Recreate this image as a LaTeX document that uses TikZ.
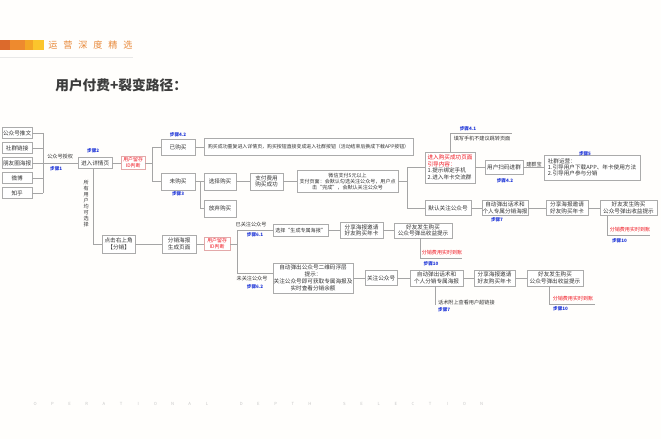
\documentclass[tikz,border=0pt]{standalone}
\usepackage{fontspec}
\setmainfont{Noto Sans CJK SC}
\definecolor{bgcol}{HTML}{FFFEFC}
\definecolor{boxgray}{HTML}{ABABAB}
\definecolor{linegray}{HTML}{A5A5A5}
\definecolor{textdark}{HTML}{333333}
\definecolor{titlegray}{HTML}{3C3C3C}
\definecolor{stepblue}{HTML}{1E35D8}
\definecolor{redtxt}{HTML}{F0141E}
\definecolor{redline}{HTML}{E3A9A9}
\definecolor{hdorange}{HTML}{E8893A}
\definecolor{barA}{HTML}{DC6A2C}
\definecolor{barB}{HTML}{EE8A2E}
\definecolor{barC}{HTML}{F4A626}
\definecolor{barD}{HTML}{FBC52C}
\begin{document}
\begin{tikzpicture}[
    x=0.5mm, y=-0.5mm,
    font=\fontsize{8}{9.4}\selectfont,
    box/.style={
      draw=boxgray, line width=0.7pt, fill=white, align=center,
      inner sep=1pt, text=textdark
    },
    sz/.style 2 args={minimum width=#1*0.5mm, minimum height=#2*0.5mm},
    small/.style={font=\fontsize{7.2}{8.6}\selectfont},
    idbox/.style={box, draw=redline, text=redtxt, font=\fontsize{7}{8.2}\selectfont},
    link/.style={draw=linegray, line width=0.7pt},
    stepl/.style={font=\fontsize{6.5}{7}\selectfont\bfseries, text=stepblue, inner sep=0pt},
    note/.style={font=\fontsize{7.3}{8.4}\selectfont, text=textdark, inner sep=0pt},
    hot/.style={font=\fontsize{7.2}{8}\selectfont, text=redtxt, inner sep=0pt},
    wm/.style={font=\fontsize{6}{6}\selectfont, text=black!22, inner sep=0pt}
  ]
    \fill[bgcol] (0,0) rectangle (661,439);

    \fill[barA] (0,40) rectangle (10,50);
    \fill[barB] (10,40) rectangle (25,50);
    \fill[barC] (25,40) rectangle (33,50);
    \fill[barD] (33,40) rectangle (44,50);
    \draw[black!9, line width=0.5pt] (0,57) -- (133,57);
    \foreach \ch [count=\i from 0] in {运,营,深,度,精,选}
      \node[font=\fontsize{13}{13}\selectfont, text=hdorange, inner sep=0pt] (hd\i) at (52.8+15*\i,45) {\ch};
    \node[anchor=west, font=\fontsize{19.5}{20}\selectfont\bfseries, text=titlegray, inner sep=0pt] (title) at (55,85) {用户付费+裂变路径：};

    \foreach \t [count=\i from 0] in {公众号推文,社群链接,朋友圈海报,微博,知乎}
      \node[box, sz={30}{11}] (src\i) at (17,133+15*\i) {\t};
    \coordinate (b0t) at (43,133);
    \coordinate (b0b) at (43,193);
    \coordinate (b0m) at (43,163);
    \node[note] (auth) at (60,157) {公众号授权};
    \node[stepl] (st1) at (56,169) {步骤1};

    \node[box, sz={34}{11}] (xq) at (95,163) {进入详情页};
    \node[stepl] (st2) at (93,151) {步骤2};
    \node[idbox, sz={24}{13}] (r1) at (133,163) {用户留存\\ID判断};
    \coordinate (b1) at (152,163);
    \node[box, sz={34}{16}] (yigou) at (178,147) {已购买};
    \node[box, sz={34}{17}] (weigou) at (178,181.5) {未购买};
    \node[stepl] (st42) at (178,135) {步骤4.2};
    \node[stepl] (st3) at (178,194) {步骤3};
    \node[box, sz={209}{17}, font=\fontsize{7}{8}\selectfont] (long1) at (308.5,147)
      {购买成功重复进入详情页，购买按钮直接变成进入社群按钮（活动结束后换成下载APP按钮）};

    \node[box, sz={32}{17}] (xz) at (220,181.5) {选择购买};
    \node[box, sz={32}{17}] (fq) at (220,208.5) {放弃购买};
    \coordinate (b2) at (200,181.5);
    \node[box, sz={33}{17}] (zf) at (266.5,181.5) {支付费用\\购买成功};
    \node[box, small, sz={101}{22}] (wx) at (347.5,181.5)
      {微信支付5元以上\\支付页面：会默认勾选关注公众号，用户点\\击“完成”，会默认关注公众号};
    \coordinate (b3) at (407,181.5);

    \node[box, sz={50}{31}, align=left, font=\fontsize{8}{9.4}\selectfont] (red2) at (450,167.5)
      {\textcolor{redtxt}{进入购买成功页面}\\\textcolor{redtxt}{引导内容：}\\1.提示绑定手机\\2.进入年卡交流群};
    \coordinate (tp1) at (450,133);
    \coordinate (tp2) at (512,133);
    \node[stepl] (st41) at (468,129) {步骤4.1};
    \node[note] (tel) at (482,139) {填写手机不建议跳转页面};
    \node[box, sz={38}{14}] (sm) at (504,167.5) {用户扫码进群};
    \node[stepl] (st42b) at (505,181) {步骤4.2};
    \node[note] (jqb) at (534,164.5) {建群宝};
    \node[box, sz={96}{25}, align=left, font=\fontsize{8}{9}\selectfont] (sq) at (592,167.5)
      {社群运营：\\1.引导用户下载APP、年卡使用方法\\2.引导用户参与分销};
    \node[stepl] (st5) at (585,154) {步骤5};

    \node[box, sz={46}{15}] (mr) at (448,208) {默认关注公众号};
    \node[box, sz={46}{15}] (zd1) at (505,208) {自动弹出话术和\\个人专属分销海报};
    \node[stepl] (st7) at (497,219.5) {步骤7};
    \node[box, sz={42}{15}] (fx1) at (567,208) {分享海报邀请\\好友购买年卡};
    \node[box, sz={57}{15}] (hy1) at (628.5,208) {好友发生购买\\公众号弹出收益提示};
    \coordinate (ob1) at (607,235);
    \coordinate (ob1a) at (650,235);
    \node[hot] (hot1) at (630,230) {分销费用实时到账};
    \node[stepl] (st10a) at (619.5,240.5) {步骤10};

    \coordinate (dn) at (93,244);
    \node[note, align=center, font=\fontsize{7.3}{8.4}\selectfont] (allu) at (86,203.5)
      {所\\有\\用\\户\\均\\可\\选\\择};
    \node[box, sz={33}{18}] (dj) at (118.5,244) {点击右上角\\【分销】};
    \node[box, sz={34}{18}] (fh) at (179,244) {分销海报\\生成页面};
    \node[idbox, sz={26}{13}] (r3) at (217,244) {用户留存\\ID判断};
    \coordinate (b4t) at (237,230.5);
    \coordinate (b4b) at (237,273);
    \node[note] (ygz) at (251,225) {已关注公众号};
    \node[stepl] (st61) at (255,235) {步骤6.1};
    \node[note] (wgz) at (252,279) {未关注公众号};
    \node[stepl] (st62) at (255,287) {步骤6.2};

    \node[box, sz={55}{12}, small] (sc) at (300.5,230.5) {选择“生成专属海报”};
    \node[box, sz={43}{16}] (fx2) at (361.5,230.5) {分享海报邀请\\好友购买年卡};
    \node[box, sz={58}{15}] (hy2) at (423,230.5) {好友发生购买\\公众号弹出收益提示};
    \coordinate (ob2) at (420,258);
    \coordinate (ob2a) at (462,258);
    \node[hot] (hot2) at (442,252.5) {分销费用实时到账};
    \node[stepl] (st10b) at (431,263.5) {步骤10};

    \node[box, sz={80}{30}, font=\fontsize{8}{9.6}\selectfont] (bb) at (313,278)
      {自动弹出公众号二维码浮层\\提示：\\关注公众号即可获取专属海报及\\实时查看分销余额};
    \node[box, sz={32}{15}] (gz) at (381,278) {关注公众号};
    \node[box, sz={53}{16}] (zd2) at (436.5,278) {自动弹出话术和\\个人分销专属海报};
    \node[box, sz={41}{16}] (fx3) at (494.5,278) {分享海报邀请\\好友购买年卡};
    \node[box, sz={56}{16}] (hy3) at (555,278) {好友发生购买\\公众号弹出收益提示};
    \coordinate (lk) at (435,305);
    \node[note, anchor=west] (hlk) at (438,302.5) {话术附上查看用户超链接};
    \node[stepl, anchor=west] (st7b) at (438,310) {步骤7};
    \coordinate (ob3) at (549,304);
    \coordinate (ob3a) at (595,304);
    \node[hot] (hot3) at (573,299) {分销费用实时到账};
    \node[stepl] (st10c) at (560.5,308.5) {步骤10};

    \foreach \ch [count=\i from 0] in {O,P,E,R,A,T,I,O,N,A,L}
      \node[wm] (wa\i) at (35+17.18*\i,404) {\ch};
    \foreach \ch [count=\i from 12] in {D,E,P,T,H}
      \node[wm] (wb\i) at (35+17.18*\i,404) {\ch};
    \foreach \ch [count=\i from 18] in {S,E,L,E,C,T,I,O,N}
      \node[wm] (wc\i) at (35+17.18*\i,404) {\ch};

    \foreach \i in {0,...,4}
      \draw[link] (src\i) -- (src\i -| b0t);
    \draw[link] (b0t) -- (b0b);
    \draw[link] (b0m) -- (xq);
    \draw[link] (xq) -- (r1);
    \draw[link] (r1) -- (b1);
    \draw[link] (b1) |- (yigou);
    \draw[link] (b1) |- (weigou);
    \draw[link] (yigou) -- (long1);
    \draw[link] (weigou) -- (xz);
    \draw[link] (b2) |- (fq);
    \draw[link] (xz) -- (zf);
    \draw[link] (zf) -- (wx);
    \draw[link] (wx) -- (b3);
    \draw[link] (b3) |- (red2);
    \draw[link] (b3) |- (mr);
    \draw[link] (red2.north) -- (tp1) -- (tp2);
    \draw[link] (red2) -- (sm);
    \draw[link] (sm) -- (sq);
    \draw[link] (mr) -- (zd1);
    \draw[link] (zd1) -- (fx1);
    \draw[link] (fx1) -- (hy1);
    \draw[link] (hy1.south -| ob1) -- (ob1) -- (ob1a);

    \draw[link] (xq.south -| dn) -- (dn) -- (dj);
    \draw[link] (dj) -- (fh);
    \draw[link] (fh) -- (r3);
    \draw[link] (r3) -- (r3 -| b4t);
    \draw[link] (b4t) -- (b4b);
    \draw[link] (b4t) -- (sc);
    \draw[link] (b4b) -- (b4b -| bb.west);
    \draw[link] (sc) -- (fx2);
    \draw[link] (fx2) -- (hy2);
    \draw[link] (hy2.south -| ob2) -- (ob2) -- (ob2a);
    \draw[link] (bb) -- (gz);
    \draw[link] (gz) -- (zd2);
    \draw[link] (zd2) -- (fx3);
    \draw[link] (fx3) -- (hy3);
    \draw[link] (zd2.south -| lk) -- (lk);
    \draw[link] (hy3.south -| ob3) -- (ob3) -- (ob3a);
  \end{tikzpicture}
\end{document}
